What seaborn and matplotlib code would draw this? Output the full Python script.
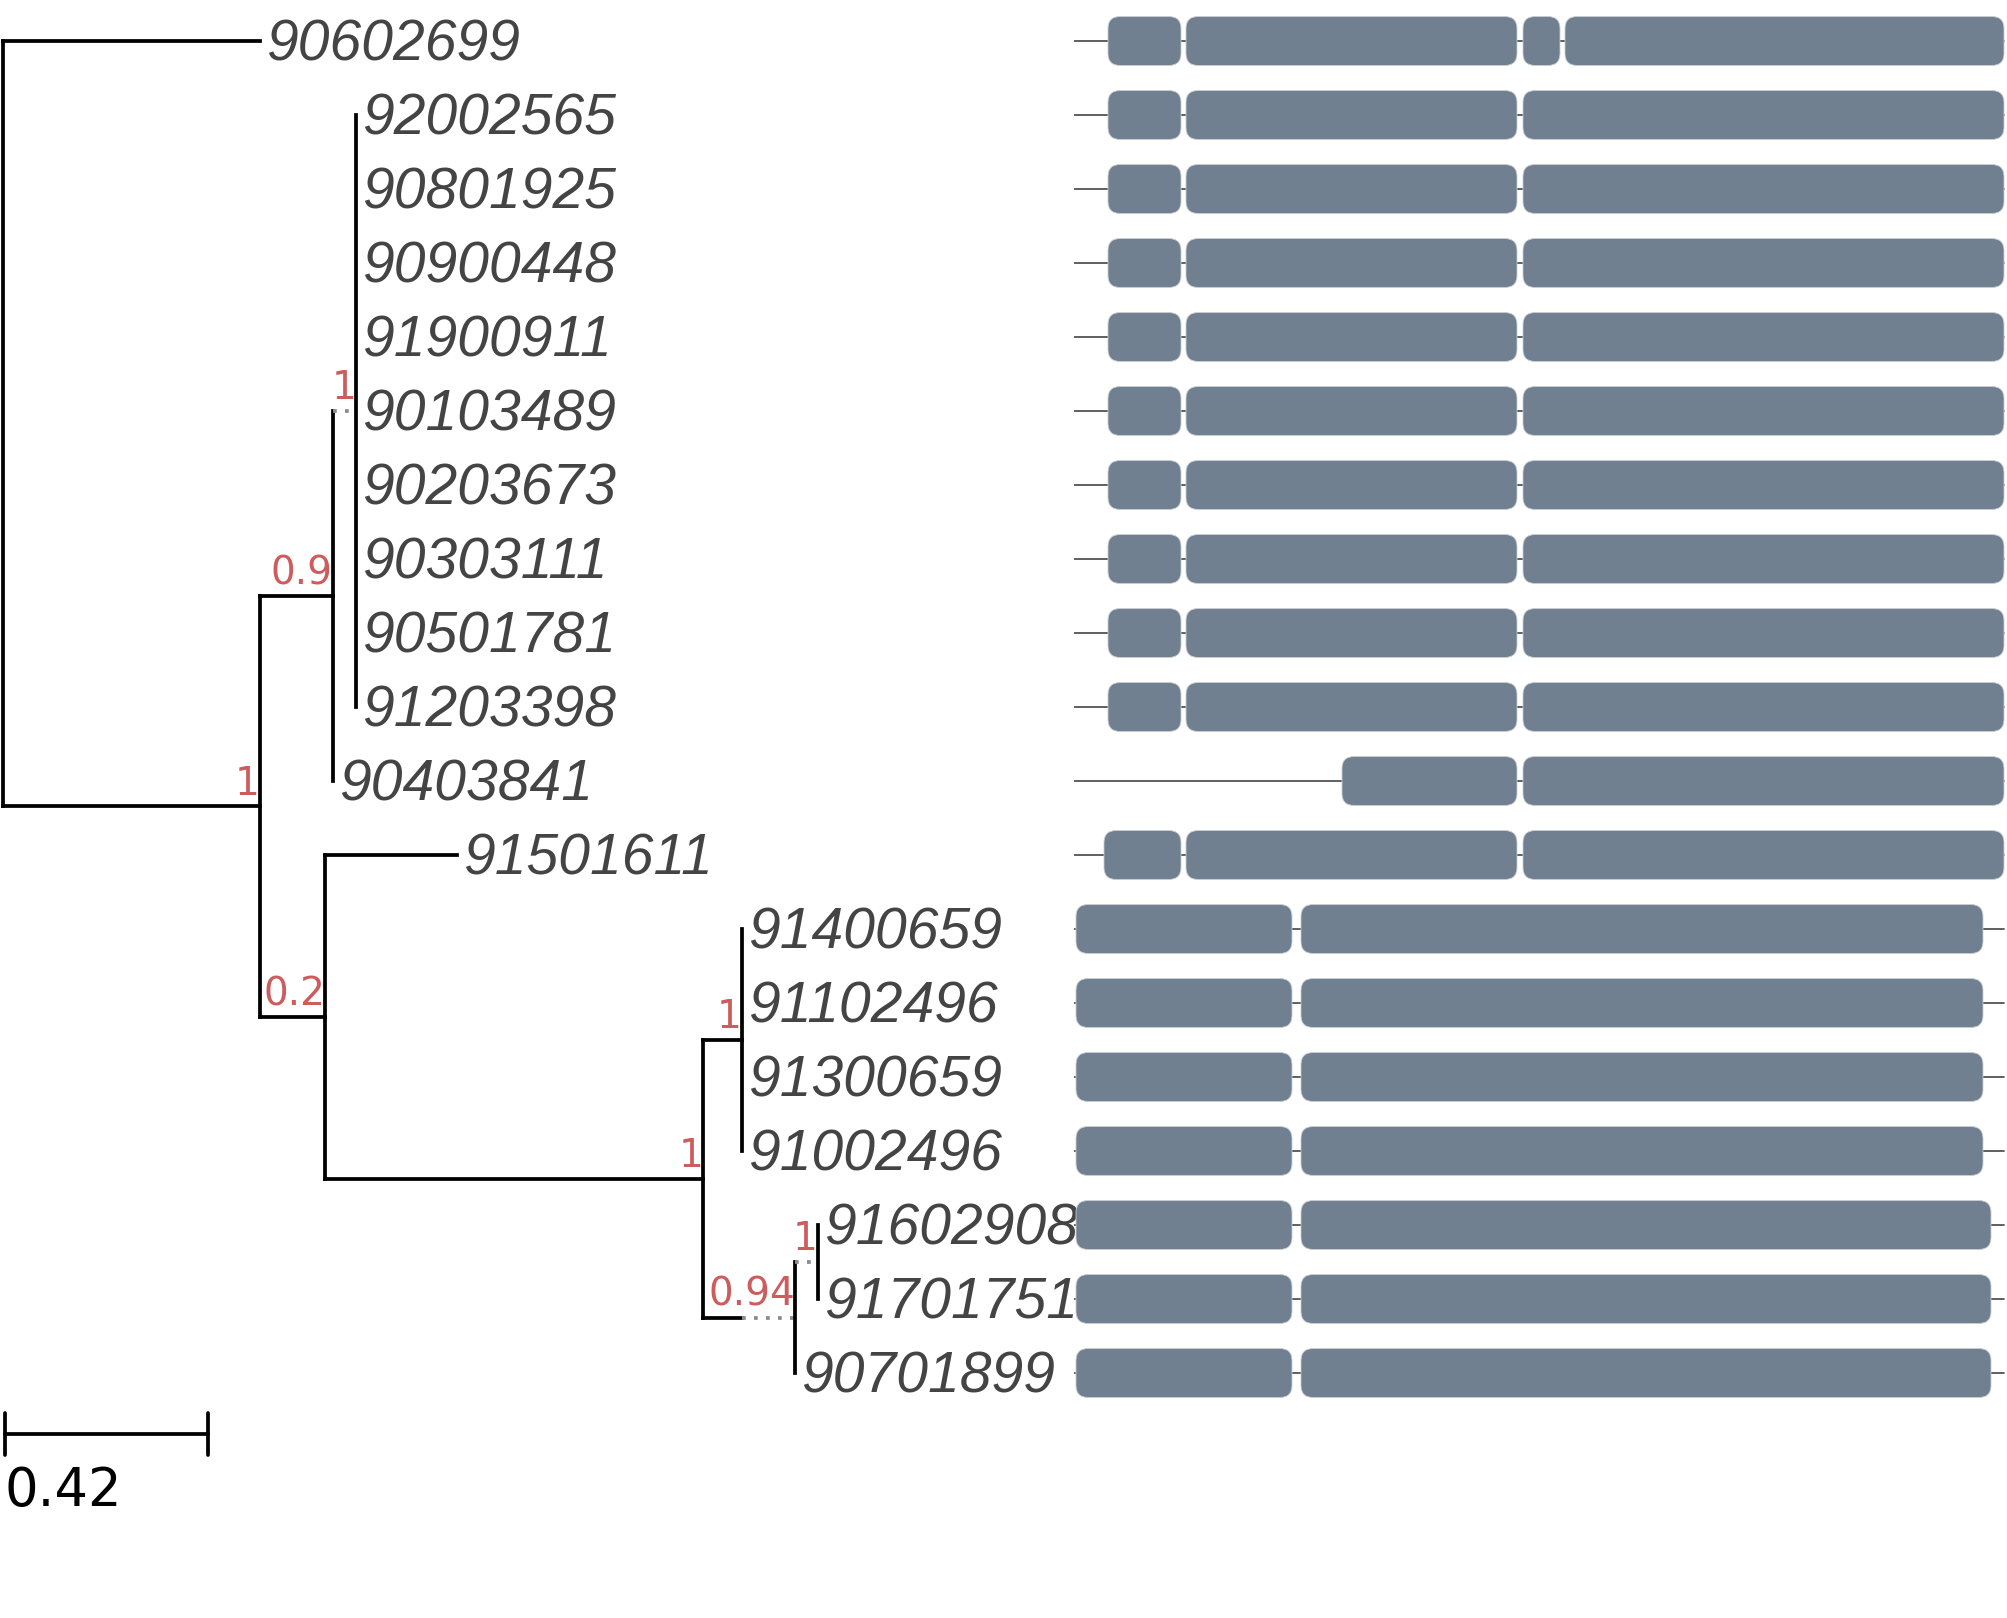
import matplotlib
matplotlib.use("Agg")
import matplotlib.pyplot as plt
from matplotlib.patches import FancyBboxPatch
import seaborn as sns

# tips, top to bottom
tips = ["90602699", "92002565", "90801925", "90900448", "91900911", "90103489",
        "90203673", "90303111", "90501781", "91203398", "90403841", "91501611",
        "91400659", "91102496", "91300659", "91002496", "91602908", "91701751",
        "90701899"]
tip_parent = ["n0", "n3", "n3", "n3", "n3", "n3", "n3", "n3", "n3", "n3", "n2",
              "n4", "n6", "n6", "n6", "n6", "n8", "n8", "n7"]
tip_length = [0.530, 0, 0, 0, 0, 0, 0, 0, 0, 0, 0, 0.272, 0, 0, 0, 0, 0, 0, 0]

# internal nodes
nodes = ["n0", "n1", "n2", "n3", "n4", "n5", "n6", "n7", "n8"]
node_parent = [None, "n0", "n1", "n2", "n1", "n4", "n5", "n5", "n7"]
node_length = [0, 0.530, 0.151, 0.048, 0.135, 0.780, 0.080, 0.190, 0.047]
node_support = ["", "1", "0.9", "1", "0.2", "1", "1", "0.94", "1"]
# branch becomes dotted after this distance from the parent (None = solid)
node_dotted_from = [None, None, None, 0.0, None, None, None, 0.080, 0.0]

scale_len = 0.42

# gene structures (exon start, end), all genes span 0..930
gene_span = (0, 930)
exon_sets = {
    "a": [(34, 107), (112, 443), (449, 486), (491, 930)],
    "b": [(34, 107), (112, 443), (449, 930)],
    "c": [(268, 443), (449, 930)],
    "d": [(30, 107), (112, 443), (449, 930)],
    "e": [(2, 218), (227, 909)],
    "f": [(2, 218), (227, 917)],
}
tip_structure = ["a", "b", "b", "b", "b", "b", "b", "b", "b", "b", "c", "d",
                 "e", "e", "e", "e", "f", "f", "f"]

sns.set_theme(style="white")

W, H = 2007, 1618
fig = plt.figure(figsize=(W / 100, H / 100), dpi=100)
px_unit = 484.5
tree_w = 1075
ax = fig.add_axes([0, 0, tree_w / W, 1])
axg = fig.add_axes([1074 / W, 0, 933 / W, 1])
ylim = ((H - 41) / 74, -41 / 74)

# layout of the tree
parent = dict(zip(nodes, node_parent))
length = dict(zip(nodes, node_length))
parent.update(zip(tips, tip_parent))
length.update(zip(tips, tip_length))
children = {n: [] for n in nodes}
for c, p in parent.items():
    if p is not None:
        children[p].append(c)

ypos = {t: i for i, t in enumerate(tips)}
xpos = {}


def set_x(n, x):
    xpos[n] = x
    for c in children.get(n, []):
        set_x(c, x + length[c])


def set_y(n):
    if n in ypos:
        return ypos[n]
    ys = [set_y(c) for c in children[n]]
    ypos[n] = sum(ys) / len(ys)
    return ypos[n]


set_x("n0", 0.0)
set_y("n0")
dotted = dict(zip(nodes, node_dotted_from))

lw = 2.7
for n in nodes:
    ys = [ypos[c] for c in children[n]]
    ax.plot([xpos[n], xpos[n]], [min(ys), max(ys)], color="black", lw=lw,
            solid_capstyle="projecting")
    for c in children[n]:
        d = dotted.get(c)
        if d is None:
            ax.plot([xpos[n], xpos[c]], [ypos[c], ypos[c]], color="black", lw=lw,
                    solid_capstyle="projecting")
        else:
            if d > 0:
                ax.plot([xpos[n], xpos[n] + d], [ypos[c], ypos[c]], color="black",
                        lw=lw, solid_capstyle="projecting")
            ax.plot([xpos[n] + d, xpos[c]], [ypos[c], ypos[c]], color="#8c8c8c",
                    lw=lw, linestyle=(0, (1, 2.2)))

for t in tips:
    ax.text(xpos[t] + 0.012, ypos[t] + 0.06, t, fontsize=41, style="italic",
            family="Liberation Sans", color="#444444", ha="left", va="center")

for n, s in zip(nodes, node_support):
    if s:
        ax.text(xpos[n], ypos[n] - 0.05, s, fontsize=28, color="#cd5c5c",
                family="DejaVu Sans", ha="right", va="bottom")

# scale bar
x0 = 0.004
yb = (1434 - 41) / 74
ax.plot([x0, x0 + scale_len], [yb, yb], color="black", lw=lw)
for xe in (x0, x0 + scale_len):
    ax.plot([xe, xe], [yb - 0.29, yb + 0.29], color="black", lw=lw)
ax.text(x0, yb + 0.42, f"{scale_len}", fontsize=38, color="black",
        family="DejaVu Sans", ha="left", va="top")

ax.set_xlim(-3 / px_unit, (tree_w - 3) / px_unit)
ax.set_ylim(*ylim)
ax.axis("off")

# gene structures
bar_h = 0.66
for t, key in zip(tips, tip_structure):
    y = ypos[t]
    axg.plot(gene_span, [y, y], color="#444444", lw=1.2, zorder=1)
    for s, e in exon_sets[key]:
        axg.add_patch(FancyBboxPatch((s, y - bar_h / 2), e - s, bar_h,
                                     boxstyle="round,pad=0,rounding_size=12",
                                     mutation_aspect=1 / 74, fc="#708090",
                                     ec="#c8ccd0", lw=0.6, zorder=2))
axg.set_xlim(0, 933)
axg.set_ylim(*ylim)
axg.axis("off")

sns.despine(left=True, bottom=True)
fig.savefig("out.png", dpi=100)
